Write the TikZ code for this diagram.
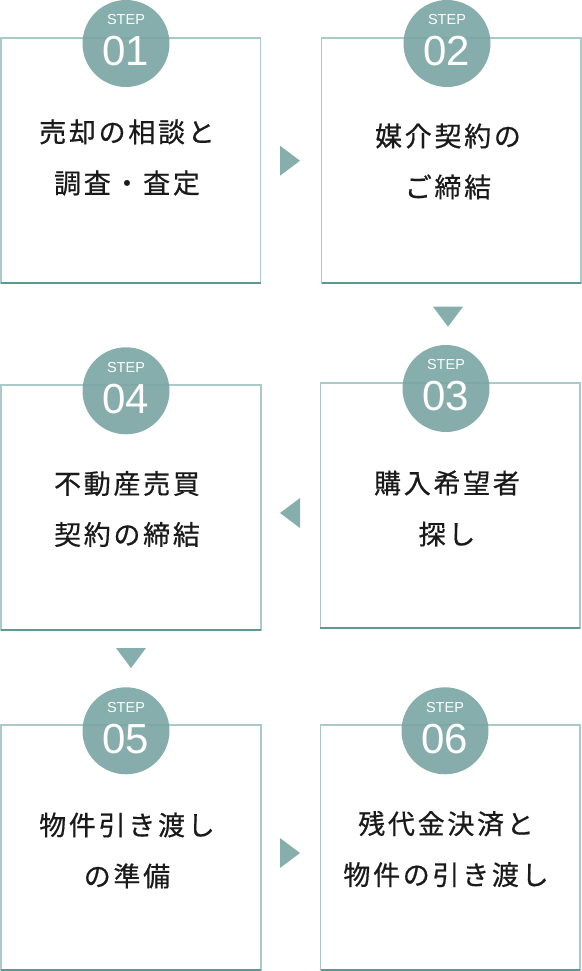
\documentclass[tikz,border=0pt]{standalone}
\usepackage{fontspec}
\newfontfamily\jpfont{Noto Sans CJK JP}[LetterSpace=10,FakeBold=0.6]
\newfontfamily\numfont{Liberation Sans}
\definecolor{boxline}{RGB}{168,202,200}
\definecolor{boxbottom}{RGB}{94,151,148}
\definecolor{circfill}{RGB}{121,165,163}
\definecolor{arrowfill}{RGB}{133,174,172}
\definecolor{txt}{RGB}{26,26,26}
\begin{document}
\begin{tikzpicture}[x=1bp,y=-1bp,
  stepbox/.style={draw=boxline,line width=1.5bp,fill=white,minimum width=259.5bp,minimum height=245bp,inner sep=0pt,outer sep=0pt},
  badge/.style={circle,fill=circfill,fill opacity=0.9,minimum size=87bp,inner sep=0pt},
  steplabel/.style={text=white,font=\numfont\fontsize{14.5bp}{16bp}\selectfont,inner sep=0pt},
  stepnum/.style={text=white,font=\numfont\fontsize{42bp}{44bp}\selectfont,inner sep=0pt},
  body/.style={text=txt,align=center,font=\jpfont\fontsize{27bp}{51bp}\selectfont,inner sep=0pt},
  tri/.style={fill=arrowfill,draw=none}]
\useasboundingbox (0,0) rectangle (582,971);
% boxes
\node[stepbox] (b1) at (130.75,160.5) {};
\node[stepbox] (b2) at (451.25,160.5) {};
\node[stepbox] (b3) at (450,505.5) {};
\node[stepbox] (b4) at (131,507.25) {};
\node[stepbox] (b5) at (131,847.25) {};
\node[stepbox] (b6) at (450.25,847.25) {};
\foreach \b in {b1,b2,b3,b4,b5,b6}{
  \draw[boxbottom,line width=1.5bp] (\b.south west) -- (\b.south east);
}
% badges
\node[badge] (c1) at (126,43.5) {};
\node[badge] (c2) at (447,43.5) {};
\node[badge] (c3) at (446,388.5) {};
\node[badge] (c4) at (126,390.8) {};
\node[badge] (c5) at (126,730.8) {};
\node[badge] (c6) at (445,730.8) {};
\foreach \c/\n in {c1/01,c2/02,c3/03,c4/04,c5/05,c6/06}{
  \node[steplabel] (\c s) at ([yshift=23.5bp]\c.center) {STEP};
  \node[stepnum] (\c n) at ([yshift=-8bp]\c.center) {\n};
}
% body texts
\node[body] (t1) at (127,157.5) {売却の相談と\\調査・査定};
\node[body] (t2) at (448,161.5) {媒介契約の\\ご締結};
\node[body] (t3) at (447,508.5) {購入希望者\\探し};
\node[body] (t4) at (127,509) {不動産売買\\契約の締結};
\node[body] (t5) at (127,850.5) {物件引き渡し\\の準備};
\node[body] (t6) at (446,849) {残代金決済と\\物件の引き渡し};
% arrows
\fill[tri] (280,145.7) -- (280,175.7) -- (300,160.7) -- cycle;
\fill[tri] (433,306.7) -- (463,306.7) -- (448,326.7) -- cycle;
\fill[tri] (300,498) -- (300,528) -- (280,513) -- cycle;
\fill[tri] (116,648) -- (146,648) -- (131,668) -- cycle;
\fill[tri] (280,838) -- (280,868) -- (300,853) -- cycle;
\end{tikzpicture}
\end{document}
